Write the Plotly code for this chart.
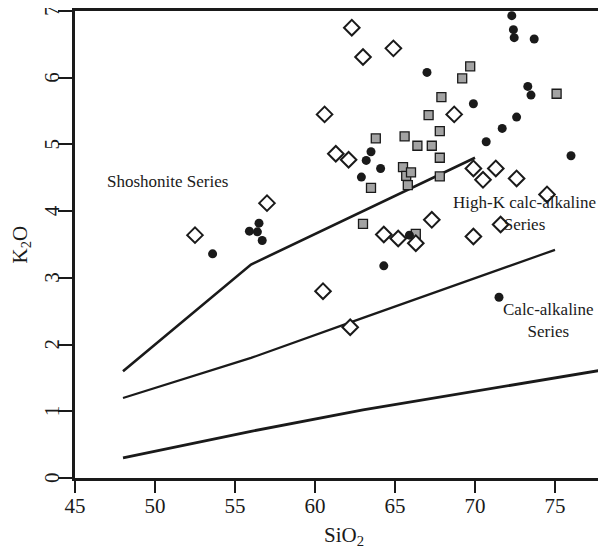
import plotly.graph_objects as go

# ---- data (SiO2 wt%, K2O wt%) ----
diamond_sio2 = [52.5, 57.0, 60.6, 62.3, 63.0, 64.9, 61.3, 62.1, 68.7, 69.9, 70.5, 71.3,
                72.6, 74.5, 67.3, 64.3, 65.2, 66.3, 69.9, 71.6, 60.5, 62.2]
diamond_k2o = [3.64, 4.12, 5.45, 6.75, 6.31, 6.44, 4.86, 4.77, 5.45, 4.64, 4.47, 4.64,
               4.49, 4.25, 3.87, 3.65, 3.59, 3.52, 3.62, 3.80, 2.80, 2.26]

circle_sio2 = [53.6, 55.9, 56.5, 56.4, 56.7, 64.3, 65.9, 67.0, 62.9, 63.2, 63.5, 64.1,
               69.9, 70.7, 71.7, 72.6, 72.3, 72.4, 72.45, 73.7, 73.3, 73.5, 76.0, 71.5]
circle_k2o = [3.36, 3.70, 3.82, 3.69, 3.56, 3.18, 3.64, 6.08, 4.51, 4.76, 4.89, 4.64,
              5.61, 5.04, 5.24, 5.41, 6.93, 6.72, 6.60, 6.58, 5.87, 5.74, 4.83, 2.71]

square_sio2 = [63.8, 63.5, 63.0, 65.6, 66.4, 67.3, 67.1, 67.8, 67.9, 67.8, 67.8, 65.5,
               65.7, 66.0, 65.8, 66.3, 69.2, 69.7, 75.1]
square_k2o = [5.09, 4.35, 3.81, 5.12, 4.98, 4.98, 5.44, 5.20, 5.71, 4.80, 4.52, 4.66,
              4.53, 4.58, 4.39, 3.66, 5.99, 6.17, 5.76]

# boundary lines
sho_x = [48, 56, 70]
sho_y = [1.6, 3.2, 4.8]
hk_x = [48, 56, 63, 70, 75]
hk_y = [1.2, 1.8, 2.4, 3.0, 3.42]
ca_x = [48, 56, 63, 70, 78]
ca_y = [0.3, 0.7, 1.02, 1.3, 1.62]

x_ticks = [45, 50, 55, 60, 65, 70, 75]
y_ticks = [0, 1, 2, 3, 4, 5, 6, 7]
y_ticklabels = [str(v) for v in y_ticks]

series_labels = ["Shoshonite Series", "High-K calc-alkaline<br>Series", "Calc-alkaline<br>Series"]
series_label_x = [50.8, 73.1, 74.6]
series_label_y = [4.45, 3.97, 2.36]

FONT = "Liberation Serif, Times New Roman, serif"
INK = "#1a1a1a"

fig = go.Figure()
for xs, ys, w in [(sho_x, sho_y, 2.6), (hk_x, hk_y, 2.2), (ca_x, ca_y, 2.8)]:
    fig.add_trace(go.Scatter(x=xs, y=ys, mode="lines",
                             line=dict(color=INK, width=w), hoverinfo="skip"))

fig.add_trace(go.Scatter(x=square_sio2, y=square_k2o, mode="markers",
                         marker=dict(symbol="square", size=9, color="#a3a3a3",
                                     line=dict(color=INK, width=1.3))))
fig.add_trace(go.Scatter(x=circle_sio2, y=circle_k2o, mode="markers",
                         marker=dict(symbol="circle", size=9, color=INK,
                                     line=dict(width=0))))
fig.add_trace(go.Scatter(x=diamond_sio2, y=diamond_k2o, mode="markers",
                         marker=dict(symbol="diamond", size=12, color="white",
                                     line=dict(color=INK, width=2))))

for t, x, y in zip(series_labels, series_label_x, series_label_y):
    fig.add_annotation(x=x, y=y, text=t, showarrow=False,
                       font=dict(family=FONT, size=17, color=INK), align="center")

# rotated y tick labels (placed on the y data scale)
for v, lab in zip(y_ticks, y_ticklabels):
    fig.add_annotation(xref="paper", x=0, yref="y", y=v, text=lab, showarrow=False,
                       textangle=-90, xanchor="center", yanchor="middle", xshift=-23,
                       font=dict(family=FONT, size=21, color=INK))

# axis titles
fig.add_annotation(xref="paper", x=0, yref="paper", y=0.5, text="K<sub>2</sub>O",
                   showarrow=False, textangle=-90, xanchor="center", yanchor="middle",
                   xshift=-55, yshift=0, font=dict(family=FONT, size=21, color=INK))
fig.add_annotation(xref="paper", x=0.5, yref="paper", y=0, text="SiO<sub>2</sub>",
                   showarrow=False, xanchor="center", yanchor="middle",
                   xshift=5, yshift=-58, font=dict(family=FONT, size=21, color=INK))

# page body has an 8px margin, so the figure is sized to fit inside the 606x550 window
fig.update_layout(
    width=598, height=542,
    margin=dict(l=67, r=3, t=3, b=72),
    paper_bgcolor="white", plot_bgcolor="white",
    showlegend=False,
    font=dict(family=FONT, color=INK),
    xaxis=dict(range=[45, 78], tickvals=x_ticks, ticktext=[str(v) for v in x_ticks],
               automargin=False,
               showgrid=False, zeroline=False, showline=True, linecolor=INK, linewidth=2.6,
               mirror=True, ticks="outside", ticklen=12, tickwidth=2.2, tickcolor=INK,
               ticklabelstandoff=-5,
               tickfont=dict(family=FONT, size=21, color=INK)),
    yaxis=dict(range=[0, 7], tickvals=y_ticks, showticklabels=False,
               automargin=False,
               showgrid=False, zeroline=False, showline=True, linecolor=INK, linewidth=2.6,
               mirror=True, ticks="outside", ticklen=14, tickwidth=2.2, tickcolor=INK),
)

fig.write_html("out.html")
